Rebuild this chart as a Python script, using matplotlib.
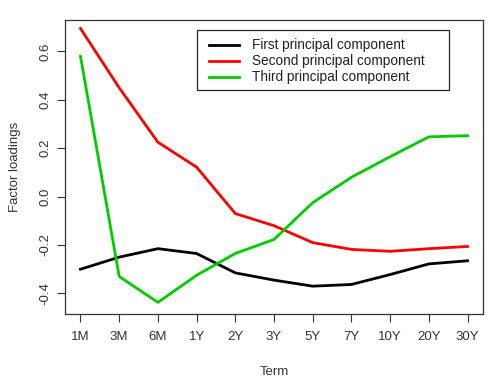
import matplotlib
matplotlib.use("Agg")
import matplotlib.pyplot as plt
from matplotlib.patches import Rectangle

plt.rcParams.update({"font.family": "Liberation Sans", "text.color": "#222222"})

# ── Data ─────────────────────────────────────────────
terms = ["1M", "3M", "6M", "1Y", "2Y", "3Y", "5Y", "7Y", "10Y", "20Y", "30Y"]
pc1 = [-0.30, -0.25, -0.215, -0.235, -0.315, -0.345, -0.37, -0.363, -0.322, -0.278, -0.265]
pc2 = [0.695, 0.45, 0.225, 0.122, -0.07, -0.12, -0.19, -0.218, -0.226, -0.215, -0.206]
pc3 = [0.58, -0.33, -0.437, -0.325, -0.235, -0.177, -0.025, 0.08, 0.165, 0.247, 0.252]

labels = ["First principal component", "Second principal component",
          "Third principal component"]
colors = ["#000000", "#FF0000", "#00CD00"]

W, H = 500, 387
GREY = "#333333"


def px(x, y):
    # pixel coords (from top-left) -> figure fraction
    return x / W, 1 - y / H


# ── Canvas ───────────────────────────────────────────
fig = plt.figure(figsize=(W / 100, H / 100), dpi=100)
ax = fig.add_axes([65 / W, 1 - 314 / H, (483 - 65) / W, (314 - 20) / H])

x = list(range(1, len(terms) + 1))
for ys, lab, c in zip([pc1, pc2, pc3], labels, colors):
    ax.plot(x, ys, color=c, lw=2.0, label=lab)

ax.set_xlim(0.6, 11.4)
ax.set_ylim(-0.485, 0.73)
ax.set_xticks(x)
ax.set_xticklabels(terms)
ax.set_yticks([-0.4, -0.2, 0.0, 0.2, 0.4, 0.6])
ax.set_yticklabels(["-0.4", "-0.2", "0.0", "0.2", "0.4", "0.6"], rotation=90,
                   va="center")
ax.tick_params(axis="both", direction="out", length=6, width=0.8,
               labelsize=9.5, colors=GREY, pad=6)
ax.tick_params(axis="y", pad=4)
for s in ax.spines.values():
    s.set_color(GREY)
    s.set_linewidth(0.9)

# axis titles placed like R's
fig.text(*px(274, 372), "Term", fontsize=9.5, color=GREY, ha="center", va="center")
fig.text(*px(15, 167), "Factor loadings", fontsize=9.5, color=GREY,
         ha="center", va="center", rotation=90)

# ── Legend (R-style box) ─────────────────────────────
bx0, by0 = px(197, 90)
bx1, by1 = px(449, 30)
fig.patches.append(Rectangle((bx0, by0), bx1 - bx0, by1 - by0, transform=fig.transFigure,
                             fc="white", ec="#222222", lw=0.9, zorder=5))
for i, (lab, c) in enumerate(zip(labels, colors)):
    yy = 45 + i * 16
    fig.add_artist(plt.Line2D([px(209, 0)[0], px(239, 0)[0]], [px(0, yy)[1]] * 2,
                              transform=fig.transFigure, color=c, lw=2.0, zorder=6))
    fig.text(*px(252, yy), lab, fontsize=9.8, color="#222222", ha="left",
             va="center", zorder=6)

fig.savefig("out.png", dpi=100)
